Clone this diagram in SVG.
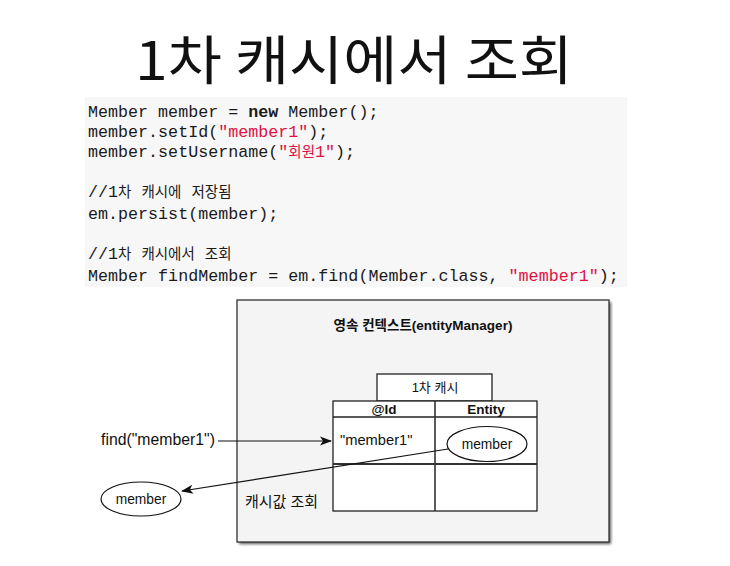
<svg xmlns="http://www.w3.org/2000/svg" width="730" height="566" viewBox="0 0 730 566">
<style>
.code{font-family:"Liberation Mono","Noto Sans CJK KR",monospace;font-size:16.7px;fill:#1a1a1a;}
.ko{font-family:"Noto Sans CJK KR",sans-serif;font-size:14.5px;}
.str{fill:#dd1144;}
.lbl{font-family:"Liberation Sans","Noto Sans CJK KR",sans-serif;fill:#111;}
.b{font-weight:bold;}
.ln{fill:none;stroke:#111;stroke-width:1.2;}
.cell{fill:#fff;stroke:#222;stroke-width:1.3;}
</style>
<defs>
<marker id="ah" viewBox="0 0 12 10" refX="11" refY="5" markerWidth="12" markerHeight="10" markerUnits="userSpaceOnUse" orient="auto">
<path d="M0,0.5 L12,5 L0,9.5 L3,5 z" fill="#111"/>
</marker>
<filter id="sh" x="-10%" y="-10%" width="120%" height="120%">
<feGaussianBlur stdDeviation="1.5"/>
</filter>
</defs>
<rect width="730" height="566" fill="#fff"/>
<text x="135" y="80" textLength="438" lengthAdjust="spacingAndGlyphs" font-family="Noto Sans CJK KR, sans-serif" font-size="53" fill="#111">1차 캐시에서 조회</text>
<g id="code">
<rect x="85" y="97" width="542" height="190" fill="#f7f7f7"/>
<text class="code" x="88" y="117">Member member = <tspan class="b">new</tspan> Member();</text>
<text class="code" x="88" y="137">member.setId(<tspan class="str">"member1"</tspan>);</text>
<text class="code" x="88" y="157">member.setUsername(<tspan class="str">"<tspan class="ko">회원</tspan>1"</tspan>);</text>
<text class="code" x="88" y="197">//1<tspan class="ko">차</tspan> <tspan class="ko">캐시에</tspan> <tspan class="ko">저장됨</tspan></text>
<text class="code" x="88" y="219">em.persist(member);</text>
<text class="code" x="88" y="259">//1<tspan class="ko">차</tspan> <tspan class="ko">캐시에서</tspan> <tspan class="ko">조회</tspan></text>
<text class="code" x="88" y="281">Member findMember = em.find(Member.class, <tspan class="str">"member1"</tspan>);</text>
</g>
<g id="context">
<rect x="239" y="302" width="372" height="242" fill="#555" filter="url(#sh)"/>
<rect x="237" y="300" width="372" height="242" fill="#f4f4f4" stroke="#333" stroke-width="1.3"/>
<text class="lbl b" x="423" y="330" text-anchor="middle" font-size="13.5">영속 컨텍스트(entityManager)</text>
</g>
<g id="cache">
<rect class="cell" x="377" y="374" width="115" height="27"/>
<text class="lbl" x="435" y="392" text-anchor="middle" font-size="13">1차 캐시</text>
<rect class="cell" x="333" y="401" width="204" height="110"/>
<line x1="333" y1="417" x2="537" y2="417" stroke="#222" stroke-width="1.3"/>
<line x1="333" y1="464" x2="537" y2="464" stroke="#333" stroke-width="2"/>
<line x1="435" y1="401" x2="435" y2="511" stroke="#333" stroke-width="1.6"/>
<text class="lbl b" x="384" y="413.5" text-anchor="middle" font-size="13.5">@Id</text>
<text class="lbl b" x="486" y="413.5" text-anchor="middle" font-size="13.5">Entity</text>
<text class="lbl" x="340" y="445" font-size="14.7">"member1"</text>
</g>
<g id="entity-member">
<ellipse cx="487" cy="444" rx="40" ry="17.5" fill="#fff" stroke="#111" stroke-width="1.2"/>
<text class="lbl" x="487" y="448.5" text-anchor="middle" font-size="13.8">member</text>
</g>
<g id="find-label">
<text class="lbl" x="101" y="445" font-size="15.8">find("member1")</text>
</g>
<g id="result-member">
<ellipse cx="141" cy="499" rx="40" ry="17" fill="#fff" stroke="#111" stroke-width="1.2"/>
<text class="lbl" x="141" y="503.5" text-anchor="middle" font-size="13.8">member</text>
</g>
<g id="cache-lookup-label">
<text class="lbl" x="245" y="507" font-size="15">캐시값 조회</text>
</g>
<g id="connectors">
<line class="ln" x1="218" y1="441" x2="331" y2="441" marker-end="url(#ah)"/>
<line class="ln" x1="448" y1="449" x2="182" y2="491" marker-end="url(#ah)"/>
</g>
</svg>
